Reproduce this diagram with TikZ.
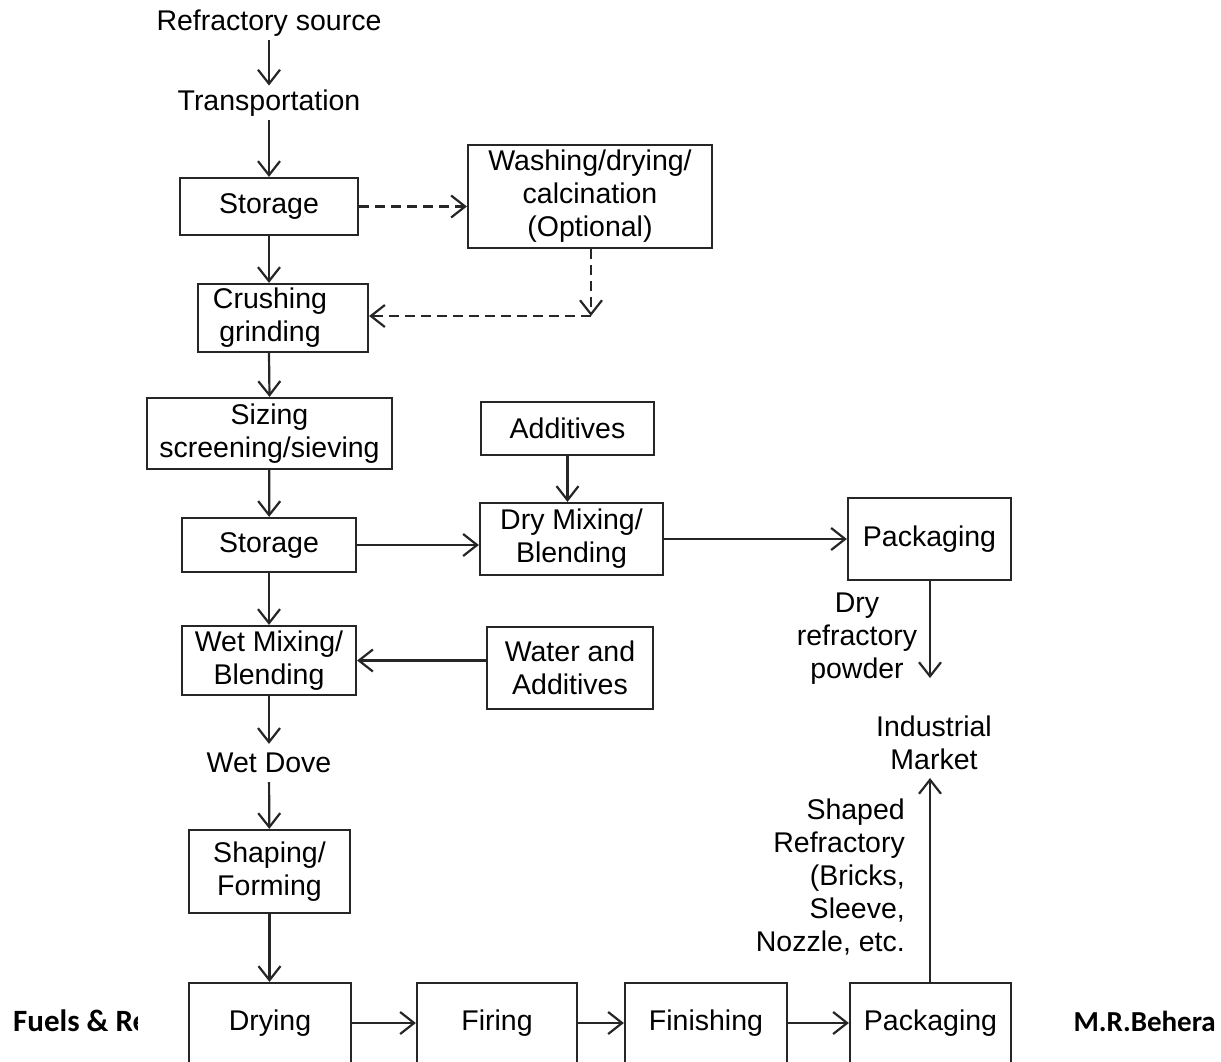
\documentclass[tikz,border=0pt]{standalone}
\usepackage{fontspec}
\setmainfont{Liberation Sans}
\newfontfamily\footfont{Carlito}
\usetikzlibrary{arrows.meta}

\tikzset{>={Straight Barb[length=14pt,width=22pt]}}
\tikzset{
  box/.style={draw=black!85, line width=2.2pt, fill=white, align=center, inner sep=0pt},
  lbl/.style={align=center, inner sep=4pt},
  flow/.style={->, draw=black!85, line width=2.2pt},
  optflow/.style={flow, dash pattern=on 10pt off 6pt},
  foottext/.style={inner sep=0pt, font=\footfont\bfseries\fontsize{29}{35}\selectfont},
}

\begin{document}
\begin{tikzpicture}[x=1pt, y=-1pt, font=\fontsize{28.5}{33}\selectfont]
  \useasboundingbox (0,0) rectangle (1221,1061);
  \clip (0,0) rectangle (1221,1061);

  % footer
  \begin{scope}
    \clip (0,960) rectangle (137,1061);
    \node[foottext, anchor=west, font=\footfont\bfseries\fontsize{31}{36}\selectfont] (foot) at (13,1021) {Fuels \& Re};
  \end{scope}
  \node[foottext, anchor=east] (author) at (1216,1021) {M.R.Behera};

  % left column
  \node[lbl] (src) at (269,23) {Refractory source};
  \node[lbl] (trans) at (269,103) {Transportation};
  \node[box, minimum width=178pt, minimum height=57pt] (store1) at (269,206.5) {Storage};
  \node[box, minimum width=170pt, minimum height=68pt] (crush) at (283,318) {\kern-26pt Crushing\\\kern-26pt grinding};
  \node[box, minimum width=245pt, minimum height=71pt] (sizing) at (269.5,433.5) {Sizing\\screening/sieving};
  \node[box, minimum width=174pt, minimum height=54pt] (store2) at (269,545) {Storage};
  \node[box, minimum width=174pt, minimum height=69pt] (wetmix) at (269,660.5) {Wet Mixing/\\Blending};
  \node[lbl, inner ysep=9pt] (wetdove) at (269,763) {Wet Dove};
  \node[box, minimum width=161pt, minimum height=83pt] (shaping) at (269.5,871.5) {Shaping/\\Forming};

  % side boxes
  \node[box, minimum width=244pt, minimum height=103pt] (wash) at (590,196.5) {Washing/drying/\\calcination\\(Optional)};
  \coordinate (turn) at (591,316);
  \node[box, minimum width=173pt, minimum height=53pt] (addit) at (567.5,428.5) {Additives};
  \node[box, minimum width=183pt, minimum height=72pt] (drymix) at (571.5,539) {Dry Mixing/\\Blending};
  \node[box, minimum width=166pt, minimum height=82pt] (water) at (570,668) {Water and\\Additives};
  \node[box, minimum width=163pt, minimum height=82pt] (pack1) at (929.5,539) {Packaging};

  % bottom row
  \node[box, minimum width=162pt, minimum height=80pt] (drying) at (270,1023) {Drying};
  \node[box, minimum width=160pt, minimum height=80pt] (firing) at (497,1023) {Firing};
  \node[box, minimum width=162pt, minimum height=80pt] (finish) at (706,1023) {Finishing};
  \node[box, minimum width=161pt, minimum height=80pt] (pack2) at (930.5,1023) {Packaging};

  % market
  \node[lbl, inner sep=1pt] (market) at (934,742.5) {Industrial\\Market};
  \coordinate (dryend) at (930,678);
  \coordinate (mktend) at (930,778);
  \node[lbl, inner sep=1pt] (drylbl) at (857,639) {Dry\\refractory\\powder};
  \node[lbl, inner sep=1pt, align=right, anchor=east] (shaplbl) at (906,877) {Shaped\\Refractory\\(Bricks,\\Sleeve,\\Nozzle, etc.};

  % connectors
  \draw[flow] (src) -- (trans);
  \draw[flow] (trans) -- (store1);
  \draw[flow] (store1.south) -- (store1.south |- crush.north);
  \draw[flow] (store1.south |- crush.south) -- (sizing.north);
  \foreach \a/\b in {sizing/store2, store2/wetmix, wetmix/wetdove, wetdove/shaping}
    \draw[flow] (\a) -- (\b);
  \draw[flow] (addit.south) -- (addit.south |- drymix.north);
  \draw[flow] (shaping.south) -- (shaping.south |- drying.north);
  \draw[optflow] (store1.east) -- (wash.west |- store1.east);
  \draw[optflow] (wash.south -| turn) -- (turn);
  \draw[optflow] (turn) -- (crush.east |- turn);
  \draw[flow] (store2.east) -- (drymix.west |- store2.east);
  \draw[flow] (drymix.east) -- (pack1.west |- drymix.east);
  \draw[flow] (water.west |- wetmix.east) -- (wetmix.east);
  \foreach \a/\b in {drying/firing, firing/finish, finish/pack2}
    \draw[flow] (\a) -- (\b);
  \draw[flow] (pack1.south -| dryend) -- (dryend);
  \draw[flow] (pack2.north -| mktend) -- (mktend);
\end{tikzpicture}
\end{document}
